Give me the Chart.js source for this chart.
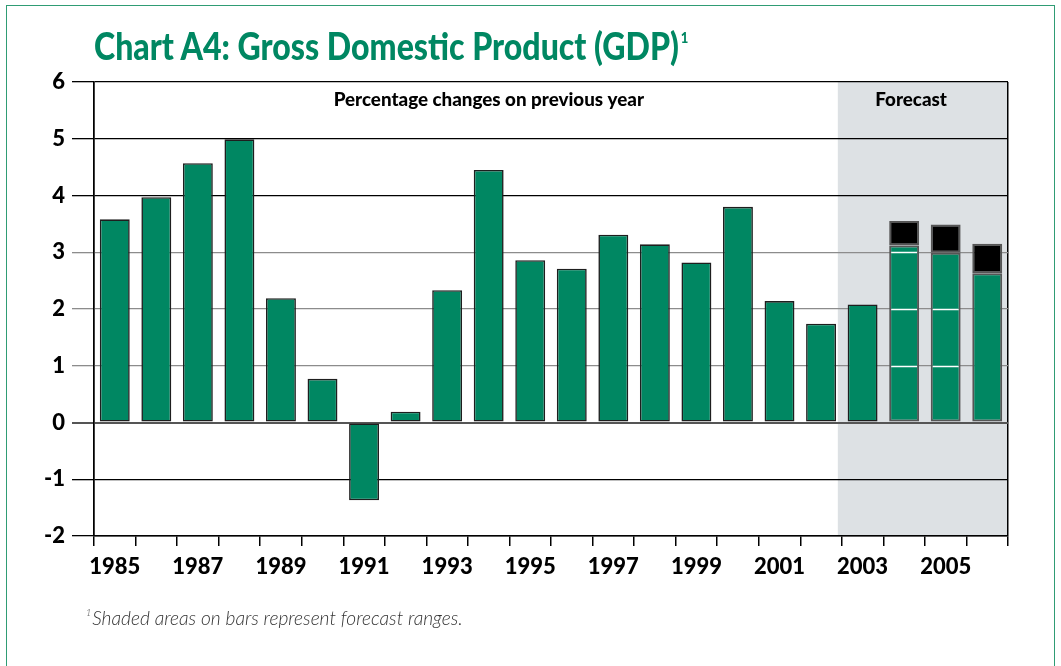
<!DOCTYPE html>
<html>
<head>
<meta charset="utf-8">
<title>Chart A4: Gross Domestic Product (GDP)</title>
<script src="https://cdn.jsdelivr.net/npm/chart.js@4"></script>
<style>
  html, body { margin: 0; padding: 0; background: #fff; }
  #wrap { position: relative; width: 1061px; height: 666px; overflow: hidden; }
  #frame { position: absolute; left: 6px; top: 5px; width: 1049px; height: 720px;
           border: 1px solid #2f9c74; box-sizing: border-box; }
  #chart { position: absolute; left: 0; top: 0; }
  #title { position: absolute; left: 94px; top: 27px; margin: 0; line-height: 1;
           font-family: Lato, sans-serif; font-weight: 900; font-size: 37px;
           color: #008762; white-space: nowrap; transform-origin: 0 0; }
  #title sup { font-size: 15px; position: relative; top: -4px; margin-left: 2px; }
  #note { position: absolute; left: 86px; top: 606px; font-family: Lato, sans-serif;
          font-style: italic; font-weight: 300; font-size: 19.2px; color: #333; white-space: nowrap; }
  #note sup { font-size: 9px; position: relative; top: -2px; margin-right: 1px; }
</style>
</head>
<body>
<div id="wrap">
  <div id="frame"></div>
  <canvas id="chart" width="1061" height="666"></canvas>
  <h1 id="title"><span id="titleText">Chart A4: Gross Domestic Product (GDP)</span><sup>1</sup></h1>
  <div id="note"><sup>1</sup>Shaded areas on bars represent forecast ranges.</div>
</div>
<script>
// Annual GDP growth, % change on previous year
const years = ['1985','1986','1987','1988','1989','1990','1991','1992','1993','1994','1995',
               '1996','1997','1998','1999','2000','2001','2002','2003','2004','2005','2006'];
const gdpGrowth = [3.58, 3.97, 4.57, 4.99, 2.19, 0.77, -1.37, 0.19, 2.33, 4.45, 2.86,
                   2.71, 3.31, 3.14, 2.82, 3.80, 2.14, 1.74, 2.08, 3.12, 2.99, 2.63];
// Upper end of the forecast range (forecast years only)
const forecastHigh = [null, null, null, null, null, null, null, null, null, null, null,
                      null, null, null, null, null, null, null, null, 3.55, 3.49, 3.15];
const firstForecastYear = '2003';
const yMin = -2, yMax = 6, yStep = 1;
const subtitle = 'Percentage changes on previous year';
const forecastLabel = 'Forecast';

const GREEN = '#008762';
const forecastRange = forecastHigh.map((h, i) => h == null ? null : +(h - gdpGrowth[i]).toFixed(2));
const isRangeBar = i => forecastHigh[i] != null;

// Fit the title to its line width
(function fitTitle() {
  const t = document.getElementById('titleText');
  const w = t.getBoundingClientRect().width;
  document.getElementById('title').style.transform = 'scaleX(' + (585 / w) + ')';
})();

const forecastPanel = {
  id: 'forecastPanel',
  beforeDraw(chart) {
    const { ctx, chartArea: a, scales: { x } } = chart;
    const i = years.indexOf(firstForecastYear);
    const left = (x.getPixelForValue(i - 1) + x.getPixelForValue(i)) / 2 - 4;
    ctx.save();
    ctx.fillStyle = '#dde1e4';
    ctx.fillRect(left, a.top, a.right - left, a.bottom - a.top);
    ctx.restore();
  },
  afterDatasetsDraw(chart) {
    const { ctx, chartArea: a, scales: { y } } = chart;
    // white grid lines through the two middle forecast bars
    const meta = chart.getDatasetMeta(0);
    ['2004', '2005'].forEach(yr => {
      const i = years.indexOf(yr);
      const bar = meta.data[i];
      const half = bar.width / 2 - 2;
      ctx.save();
      ctx.strokeStyle = '#fff';
      ctx.lineWidth = 1.5;
      for (let v = 1; v < gdpGrowth[i]; v++) {
        const py = Math.round(y.getPixelForValue(v)) + 0.5;
        ctx.beginPath();
        ctx.moveTo(bar.x - half, py);
        ctx.lineTo(bar.x + half, py);
        ctx.stroke();
      }
      ctx.restore();
    });
    // panel captions
    ctx.save();
    ctx.fillStyle = '#000';
    ctx.font = '900 18.8px Lato';
    ctx.textAlign = 'center';
    ctx.textBaseline = 'alphabetic';
    const w = a.right - a.left;
    ctx.fillText(subtitle, a.left + w * 0.432, a.top + 24);
    ctx.fillText(forecastLabel, a.left + w * 0.894, a.top + 24);
    ctx.restore();
  }
};

new Chart(document.getElementById('chart'), {
  type: 'bar',
  data: {
    labels: years,
    datasets: [
      {
        label: 'GDP growth',
        data: gdpGrowth,
        backgroundColor: GREEN,
        borderColor: c => isRangeBar(c.dataIndex) ? '#555' : '#1e1e1e',
        borderWidth: c => isRangeBar(c.dataIndex) ? 2 : 1.6,
        borderSkipped: false,
        barPercentage: 0.72,
        categoryPercentage: 1,
        stack: 'gdp'
      },
      {
        label: 'Forecast range',
        data: forecastRange,
        backgroundColor: '#000',
        borderColor: '#555',
        borderWidth: 2,
        borderSkipped: false,
        barPercentage: 0.72,
        categoryPercentage: 1,
        stack: 'gdp'
      }
    ]
  },
  options: {
    responsive: false,
    animation: false,
    events: [],
    layout: { padding: { top: 82, right: 53, bottom: 0, left: 0 } },
    plugins: { legend: { display: false }, tooltip: { enabled: false }, title: { display: false } },
    scales: {
      x: {
        stacked: true,
        offset: true,
        grid: {
          offset: true,
          drawOnChartArea: true,
          color: c => (c.index === 0 || c.index === undefined) ? '#000' : 'rgba(0,0,0,0)',
          tickColor: '#000',
          tickLength: 10,
          lineWidth: 1.5
        },
        border: { display: true, color: '#000', width: 1.5 },
        ticks: {
          autoSkip: false,
          maxRotation: 0,
          color: '#000',
          padding: 8,
          font: { family: 'Lato', size: 22, weight: '900' },
          callback: (v, i) => i % 2 === 0 ? years[i] : ''
        },
        afterFit: s => { s.height = 130; }
      },
      y: {
        stacked: true,
        min: yMin,
        max: yMax,
        ticks: {
          stepSize: yStep,
          color: '#000',
          padding: 7,
          font: { family: 'Lato', size: 22, weight: '900' },
          callback: v => String(v)
        },
        grid: {
          tickLength: 22,
          color: c => {
            const v = c.tick ? c.tick.value : 0;
            if (v === 0) return '#555';
            if (v >= 1 && v <= 3) return '#8c8c8c';
            return '#000';
          },
          lineWidth: c => (c.tick && c.tick.value === 0) ? 2 : 1.3
        },
        border: { display: true, color: '#000', width: 1.5 },
        afterFit: s => { s.width = 94; }
      }
    }
  },
  plugins: [forecastPanel]
});
</script>
</body>
</html>
